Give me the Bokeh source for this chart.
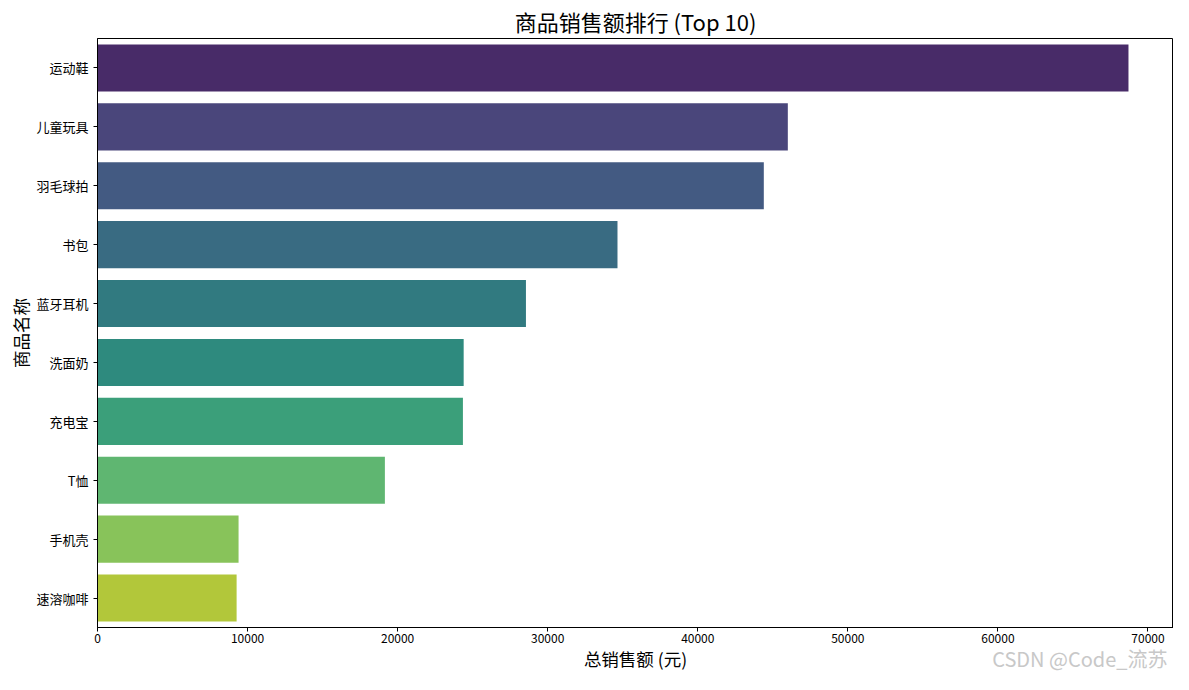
import colorsys
from bokeh.plotting import figure
from bokeh.models import FactorRange, Range1d, FixedTicker, Title, ColumnDataSource, NumeralTickFormatter
from bokeh.palettes import Viridis256
from bokeh.embed import file_html
from bokeh.resources import INLINE

products = ["运动鞋", "儿童玩具", "羽毛球拍", "书包", "蓝牙耳机", "洗面奶", "充电宝", "T恤", "手机壳", "速溶咖啡"]
sales = [68700, 46000, 44400, 34650, 28550, 24400, 24350, 19150, 9400, 9270]
x_ticks = [0, 10000, 20000, 30000, 40000, 50000, 60000, 70000]

# seaborn-style viridis palette (desaturated 0.75)
def sns_color(i, n):
    t = (i + 1) / (n + 1)
    hexc = Viridis256[min(int(t * 256), 255)]
    r, g, b = (int(hexc[k:k + 2], 16) / 255 for k in (1, 3, 5))
    h, l, s = colorsys.rgb_to_hls(r, g, b)
    r, g, b = colorsys.hls_to_rgb(h, l, s * 0.75)
    return "#%02x%02x%02x" % (round(r * 255), round(g * 255), round(b * 255))

colors = [sns_color(i, len(products)) for i in range(len(products))]

FONT = "Noto Sans CJK SC"
src = ColumnDataSource(dict(product=products, sales=sales, color=colors))

p = figure(
    width=1173, height=674,
    y_range=FactorRange(factors=list(reversed(products))),
    x_range=Range1d(0, 71700),
    output_backend="svg", toolbar_location=None,
    title="商品销售额排行 (Top 10)",
    min_border_left=97, min_border_right=0, min_border_bottom=47, min_border_top=0,
)
p.hbar(y="product", right="sales", left=0, height=0.8, color="color", line_color=None, source=src)

p.title.align = "center"
p.title.text_font = FONT
p.title.text_font_size = "22px"
p.title.text_font_style = "normal"
p.title.text_color = "#000000"
p.title.standoff = 4
p.title.offset = 0

p.xaxis.ticker = FixedTicker(ticks=x_ticks)
p.xaxis.formatter = NumeralTickFormatter(format="0")
p.xaxis.axis_label = "总销售额 (元)"
p.yaxis.axis_label = "商品名称"
for ax in (p.xaxis[0], p.yaxis[0]):
    ax.axis_label_text_font = FONT
    ax.axis_label_text_font_size = "17.5px"
    ax.axis_label_text_font_style = "normal"
    ax.axis_label_text_color = "#000000"
    ax.major_label_text_font = FONT
    ax.major_label_text_color = "#000000"
    ax.axis_line_color = "#000000"
    ax.major_tick_line_color = "#000000"
    ax.major_tick_out = 4
    ax.major_tick_in = 0
    ax.minor_tick_line_color = None
p.xaxis.major_label_standoff = 2
p.yaxis.major_label_standoff = 5
p.xaxis.major_label_text_font_size = "12px"
p.yaxis.major_label_text_font_size = "13px"
p.xaxis.axis_label_standoff = 0
p.yaxis.axis_label_standoff = 0

p.xgrid.grid_line_color = None
p.ygrid.grid_line_color = None
p.outline_line_color = "#000000"
p.outline_line_width = 1
p.outline_line_alpha = 1

wm = Title(text="CSDN @Code_流苏", align="right", vertical_align="top", text_font=FONT,
           text_font_size="20px", text_color="#c8c8c8", text_font_style="normal",
           standoff=-60, offset=6)
p.add_layout(wm, "below")

open("out.html", "w").write(file_html(p, INLINE))
